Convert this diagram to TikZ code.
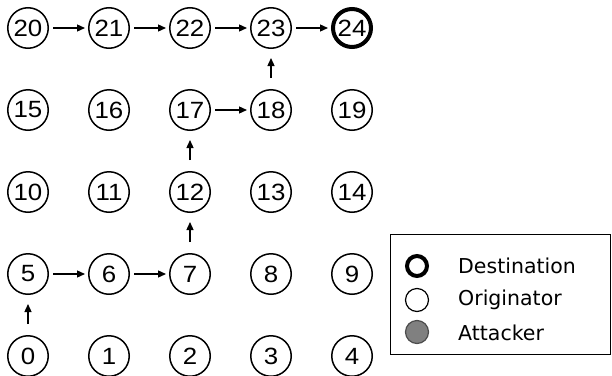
\documentclass[tikz,border=0pt]{standalone}
\usepackage{fontspec}
\setmainfont{Liberation Sans}
\newfontfamily\numfont[FakeStretch=1.1]{Liberation Sans}
\newfontfamily\legendfont{DejaVu Sans}
\usetikzlibrary{arrows.meta}

\begin{document}
\begin{tikzpicture}[x=1pt,y=-1pt,
  vertex/.style={circle, draw, line width=1.5pt, minimum size=40.5pt, inner sep=0pt,
                 font=\numfont\fontsize{23.5}{23.5}\selectfont},
  dest/.style={vertex, line width=4pt, minimum size=38pt},
  hop/.style={-{Triangle[length=8pt,width=7pt]}, line width=1.3pt},
  hhop/.style={hop, shorten <=4pt, shorten >=3pt},
  vhop/.style={hop, shorten <=11pt, shorten >=9pt},
  keyring/.style={circle, draw, line width=1.2pt, minimum size=23pt, inner sep=0pt},
  keytext/.style={anchor=west, inner sep=0pt, font=\legendfont\fontsize{20.5}{20.5}\selectfont}
]
\useasboundingbox (0,0) rectangle (612,375);

% 5x5 grid of sensor nodes, numbered row by row from the bottom
\foreach \i in {0,...,23} {
  \pgfmathtruncatemacro\c{mod(\i,5)}
  \pgfmathtruncatemacro\r{4-div(\i,5)}
  \node[vertex] (n\i) at ({28+81*\c},{28+82*\r}) {\i};
}
\node[dest] (n24) at ({28+81*4},28) {24};

% route from the originator to the destination
\draw[vhop] (n0) -- (n5);
\draw[hhop] (n5) -- (n6);
\draw[hhop] (n6) -- (n7);
\draw[vhop] (n7) -- (n12);
\draw[vhop] (n12) -- (n17);
\draw[hhop] (n17) -- (n18);
\draw[vhop] (n18) -- (n23);
\draw[hhop] (n20) -- (n21);
\draw[hhop] (n21) -- (n22);
\draw[hhop] (n22) -- (n23);
\draw[hhop] (n23) -- (n24);

% legend
\node[draw, line width=0.9pt, minimum width=220pt, minimum height=120pt, anchor=north west,
      inner sep=0pt] (legend) at (389.5,233.5) {};
\node[keyring, line width=4pt, minimum size=20pt] (kd) at (417,266) {};
\node[keyring] (ko) at (417,300) {};
\node[keyring, fill=black!50, draw=black!70] (ka) at (417,332) {};
\node[keytext] (td) at (458,266) {Destination};
\node[keytext] (to) at (458,300) {Originator};
\node[keytext] (ta) at (458,333) {Attacker};
\end{tikzpicture}
\end{document}
